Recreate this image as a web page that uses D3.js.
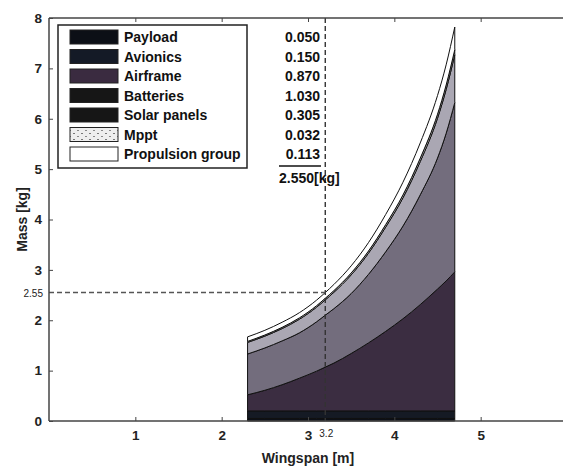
<!DOCTYPE html>
<html>
<head>
<meta charset="utf-8">
<script src="https://cdn.jsdelivr.net/npm/d3@7"></script>
<style>
body{margin:0;padding:0;background:#fff;}
text{font-family:"Liberation Sans",Arial,sans-serif;}
</style>
</head>
<body>
<div id="chart"></div>
<script>
// wingspan samples [m]
var span = [2.3, 2.5, 2.7, 2.9, 3.1, 3.2, 3.3, 3.5, 3.7, 3.9, 4.1, 4.3, 4.5, 4.6, 4.7];
// masses [kg], bottom to top
var payload    = [0.05, 0.05, 0.05, 0.05, 0.05, 0.05, 0.05, 0.05, 0.05, 0.05, 0.05, 0.05, 0.05, 0.05, 0.05];
var avionics   = [0.15, 0.15, 0.15, 0.15, 0.15, 0.15, 0.15, 0.15, 0.15, 0.15, 0.15, 0.15, 0.15, 0.15, 0.15];
var airframe   = [0.32, 0.41, 0.52, 0.65, 0.79, 0.87, 0.95, 1.14, 1.35, 1.58, 1.83, 2.11, 2.42, 2.58, 2.76];
var batteries  = [0.81, 0.84, 0.87, 0.90, 0.98, 1.03, 1.08, 1.19, 1.36, 1.58, 1.84, 2.18, 2.60, 2.93, 3.36];
var solar      = [0.23, 0.235, 0.245, 0.27, 0.29, 0.305, 0.325, 0.37, 0.42, 0.49, 0.56, 0.66, 0.79, 0.87, 0.95];
var mppt       = [0.02, 0.022, 0.024, 0.027, 0.03, 0.032, 0.034, 0.038, 0.043, 0.05, 0.058, 0.068, 0.08, 0.09, 0.1];
var propulsion = [0.09, 0.093, 0.101, 0.103, 0.11, 0.113, 0.121, 0.142, 0.167, 0.20, 0.252, 0.302, 0.37, 0.40, 0.45];

var names = ["Payload", "Avionics", "Airframe", "Batteries", "Solar panels", "Mppt", "Propulsion group"];
var designValues = ["0.050", "0.150", "0.870", "1.030", "0.305", "0.032", "0.113"];
var designTotal = "2.550[kg]";
var designSpan = 3.2, designMass = 2.55;
var xTicks = [1, 2, 3, 4, 5];
var yTicks = [0, 1, 2, 3, 4, 5, 6, 7, 8];

var fillColors = ["#0c0f16", "#151a24", "#3b2d41", "#736d7d", "#aaa7b3", "#d6d6d6", "#ffffff"];
var legendColors = ["#0c0f16", "#141a26", "#3a2b40", "#161616", "#161616", "url(#speckle)", "#ffffff"];

var W = 563, H = 466;
var svg = d3.select("#chart").append("svg").attr("width", W).attr("height", H);

// speckled swatch for the Mppt legend entry
var pat = svg.append("defs").append("pattern")
  .attr("id", "speckle").attr("patternUnits", "userSpaceOnUse")
  .attr("width", 8).attr("height", 6);
pat.append("rect").attr("width", 8).attr("height", 6).attr("fill", "#eee");
pat.append("rect").attr("x", 1).attr("y", 1).attr("width", 2).attr("height", 1).attr("fill", "#777");
pat.append("rect").attr("x", 5).attr("y", 4).attr("width", 2).attr("height", 1).attr("fill", "#888");

var x = d3.scaleLinear().domain([0, 6]).range([49, 567]);
var y = d3.scaleLinear().domain([0, 8]).range([421, 18]);

var series = [payload, avionics, airframe, batteries, solar, mppt, propulsion];
var rows = span.map(function(b, i){
  var r = {b: b};
  names.forEach(function(n, k){ r[n] = series[k][i]; });
  return r;
});
var stacked = d3.stack().keys(names)(rows);

var area = d3.area()
  .x(function(d){ return x(d.data.b); })
  .y0(function(d){ return y(d[0]); })
  .y1(function(d){ return y(d[1]); })
  .curve(d3.curveMonotoneX);

svg.selectAll("path.layer")
  .data(stacked)
  .enter()
  .append("path")
  .attr("class", "layer")
  .attr("d", area)
  .attr("fill", function(d, i){ return fillColors[i]; })
  .attr("stroke", "#111")
  .attr("stroke-width", 1);

// dashed design point lines
svg.append("line")
  .attr("x1", x(designSpan)).attr("x2", x(designSpan))
  .attr("y1", y(8)).attr("y2", y(0))
  .attr("stroke", "#333").attr("stroke-width", 1.4)
  .attr("stroke-dasharray", "5,3");
svg.append("line")
  .attr("x1", x(0)).attr("x2", x(designSpan))
  .attr("y1", y(designMass)).attr("y2", y(designMass))
  .attr("stroke", "#555").attr("stroke-width", 1.4)
  .attr("stroke-dasharray", "5,3");

// axes frame
var axisCol = "#444";
svg.append("line").attr("x1", x(0)).attr("x2", W).attr("y1", y(0)).attr("y2", y(0))
  .attr("stroke", axisCol).attr("stroke-width", 1.5);
svg.append("line").attr("x1", x(0)).attr("x2", W).attr("y1", y(8)).attr("y2", y(8))
  .attr("stroke", axisCol).attr("stroke-width", 1.5);
svg.append("line").attr("x1", x(0)).attr("x2", x(0)).attr("y1", y(0)).attr("y2", y(8))
  .attr("stroke", axisCol).attr("stroke-width", 1.5);

var xAxis = svg.append("g").attr("transform", "translate(0," + y(0) + ")")
  .call(d3.axisBottom(x).tickValues(xTicks).tickSize(-4).tickPadding(9).tickFormat(d3.format("d")));
var xAxisTop = svg.append("g").attr("transform", "translate(0," + y(8) + ")")
  .call(d3.axisTop(x).tickValues(xTicks).tickSize(-4).tickFormat(""));
var yAxis = svg.append("g").attr("transform", "translate(" + x(0) + ",0)")
  .call(d3.axisLeft(y).tickValues(yTicks).tickSize(-4).tickPadding(7).tickFormat(d3.format("d")));
[xAxis, xAxisTop, yAxis].forEach(function(g){
  g.select(".domain").remove();
  g.selectAll(".tick line").attr("stroke", axisCol).attr("stroke-width", 1);
  g.selectAll(".tick text").attr("font-size", 13.5).attr("font-weight", "bold").attr("fill", "#222")
    .style("font-family", "'Liberation Sans', Arial, sans-serif");
});

// design point labels
svg.append("text").attr("x", 43).attr("y", y(designMass) + 4)
  .attr("text-anchor", "end").attr("font-size", 10).attr("fill", "#222").text("2.55");
svg.append("text").attr("x", x(designSpan) + 1).attr("y", 437)
  .attr("text-anchor", "middle").attr("font-size", 10).attr("fill", "#222").text("3.2");

// axis titles
svg.append("text").attr("x", x(3)).attr("y", 463)
  .attr("text-anchor", "middle").attr("font-size", 14).attr("font-weight", "bold").attr("fill", "#222")
  .text("Wingspan [m]");
svg.append("text").attr("transform", "translate(27," + y(4) + ") rotate(-90)")
  .attr("text-anchor", "middle").attr("font-size", 14).attr("font-weight", "bold").attr("fill", "#222")
  .text("Mass [kg]");

// legend
var lg = svg.append("g");
lg.append("rect").attr("x", 58).attr("y", 25).attr("width", 189).attr("height", 143)
  .attr("fill", "#fff").attr("stroke", "#222").attr("stroke-width", 1.5);
var rowY = d3.scaleLinear().domain([0, 6]).range([37, 154]);
lg.selectAll("rect.sw")
  .data(names)
  .enter()
  .append("rect")
  .attr("class", "sw")
  .attr("x", 70).attr("width", 48)
  .attr("y", function(d, i){ return rowY(i) - 7; })
  .attr("height", 14)
  .attr("fill", function(d, i){ return legendColors[i]; })
  .attr("stroke", "#222").attr("stroke-width", 1);
lg.selectAll("text.lt")
  .data(names)
  .enter()
  .append("text")
  .attr("class", "lt")
  .attr("x", 124)
  .attr("y", function(d, i){ return rowY(i) + 5; })
  .attr("font-size", 14).attr("font-weight", "bold").attr("fill", "#111")
  .text(function(d){ return d; });

// value column
svg.selectAll("text.val")
  .data(designValues)
  .enter()
  .append("text")
  .attr("class", "val")
  .attr("x", 320)
  .attr("y", function(d, i){ return rowY(i) + 5; })
  .attr("text-anchor", "end")
  .attr("font-size", 14).attr("font-weight", "bold").attr("fill", "#111")
  .text(function(d){ return d; });
svg.append("line").attr("x1", 279).attr("x2", 321).attr("y1", 166).attr("y2", 166)
  .attr("stroke", "#111").attr("stroke-width", 1.5);
svg.append("text").attr("x", 279).attr("y", 183)
  .attr("font-size", 14).attr("font-weight", "bold").attr("fill", "#111").text(designTotal);
</script>
</body>
</html>
